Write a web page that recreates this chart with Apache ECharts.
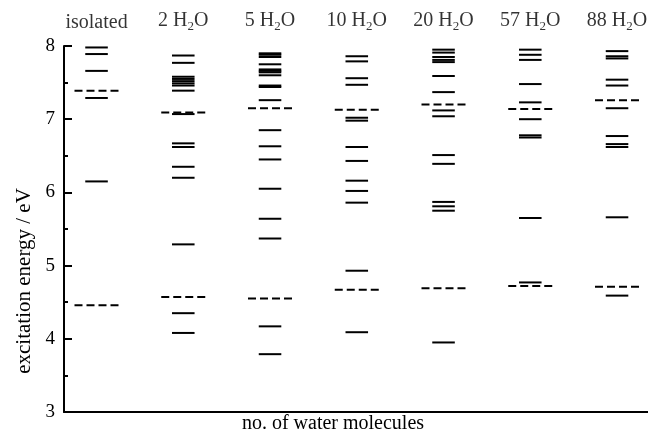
<!DOCTYPE html>
<html>
<head>
<meta charset="utf-8">
<script src="https://cdn.jsdelivr.net/npm/echarts@6/dist/echarts.min.js"></script>
<style>html,body{margin:0;padding:0;background:#fff}#c{width:648px;height:434px}</style>
</head>
<body>
<div id="c"></div>
<script>
// Column headers (rich text: {s|..} is subscript)
const columnLabels = ['{n|isolated}', '{n|2 H}{s|2}{n|O}', '{n|5 H}{s|2}{n|O}', '{n|10 H}{s|2}{n|O}', '{n|20 H}{s|2}{n|O}', '{n|57 H}{s|2}{n|O}', '{n|88 H}{s|2}{n|O}'];
const yTicks = [3, 4, 5, 6, 7, 8];

// Excitation energies (eV), solid levels per column
const solidIsolated = [7.98, 7.89, 7.66, 7.29, 6.15];
const solid2 = [7.87, 7.77, 7.58, 7.55, 7.52, 7.49, 7.46, 7.39, 7.07, 6.67, 6.62, 6.35, 6.20, 5.29, 4.35, 4.08];
const solid5 = [7.90, 7.88, 7.85, 7.75, 7.68, 7.66, 7.64, 7.60, 7.46, 7.44, 7.26, 6.85, 6.63, 6.45, 6.05, 5.64, 5.37, 4.17, 3.79];
const solid10 = [7.86, 7.79, 7.56, 7.47, 7.02, 6.98, 6.62, 6.43, 6.16, 6.02, 5.86, 4.93, 4.09];
const solid20 = [7.95, 7.91, 7.85, 7.81, 7.78, 7.59, 7.37, 7.12, 7.04, 6.51, 6.39, 5.87, 5.81, 5.75, 3.95];
const solid57 = [7.95, 7.88, 7.81, 7.48, 7.23, 7.00, 6.78, 6.75, 5.65, 4.77];
const solid88 = [7.93, 7.86, 7.83, 7.54, 7.46, 7.15, 6.77, 6.66, 6.62, 5.66, 4.59];

// Dashed levels per column
const dashedIsolated = [7.39, 4.46];
const dashed2 = [7.09, 4.57];
const dashed5 = [7.15, 4.55];
const dashed10 = [7.13, 4.67];
const dashed20 = [7.20, 4.69];
const dashed57 = [7.14, 4.72];
const dashed88 = [7.26, 4.71];

const solidCols = [solidIsolated, solid2, solid5, solid10, solid20, solid57, solid88];
const dashedCols = [dashedIsolated, dashed2, dashed5, dashed10, dashed20, dashed57, dashed88];

const solidData = [];
solidCols.forEach((arr, i) => arr.forEach(v => solidData.push([i, v])));
const dashedData = [];
dashedCols.forEach((arr, i) => arr.forEach(v => dashedData.push([i, v])));

function levelRenderer(half, dash) {
  return function (params, api) {
    const x = api.value(0), y = api.value(1);
    const p1 = api.coord([x - half, y]);
    const p2 = api.coord([x + half, y]);
    return {
      type: 'line',
      shape: { x1: p1[0], y1: p1[1], x2: p2[0], y2: p2[1] },
      style: { stroke: '#000', lineWidth: 2, lineDash: dash }
    };
  };
}

const font = 'Liberation Serif';
const chart = echarts.init(document.getElementById('c'), null, { renderer: 'canvas' });
chart.setOption({
  animation: false,
  backgroundColor: '#fff',
  grid: { left: 64, right: 0, top: 46, bottom: 22, containLabel: false, outerBoundsMode: 'none' },
  xAxis: {
    type: 'value', min: -0.375, max: 6.357,
    axisLine: { show: true, onZero: false, lineStyle: { color: '#000', width: 2 } },
    axisTick: { show: false }, axisLabel: { show: false }, splitLine: { show: false },
    name: 'no. of water molecules', nameLocation: 'middle', nameGap: 2,
    nameTextStyle: { fontFamily: font, fontSize: 20, color: '#000', padding: [0, 46, 0, 0] }
  },
  yAxis: {
    type: 'value', min: yTicks[0], max: yTicks[yTicks.length - 1], interval: 1,
    axisLine: { show: true, onZero: false, lineStyle: { color: '#000', width: 2 } },
    axisTick: { show: true, inside: true, length: 8, lineStyle: { color: '#000', width: 2 } },
    minorTick: { show: true, splitNumber: 2, length: 4, lineStyle: { color: '#000', width: 2 } },
    axisLabel: { fontFamily: font, fontSize: 19, color: '#000', margin: 9 },
    splitLine: { show: false },
    name: 'excitation energy / eV', nameLocation: 'middle', nameGap: 26,
    nameTextStyle: { fontFamily: font, fontSize: 21, color: '#000', padding: [0, 104, 0, 0] }
  },
  series: [
    {
      type: 'custom', renderItem: levelRenderer(0.13, null), data: solidData, clip: false
    },
    {
      type: 'custom', renderItem: levelRenderer(0.254, [8, 4]), data: dashedData, clip: false
    },
    {
      type: 'scatter', symbolSize: 0,
      data: columnLabels.map((t, i) => [i, 8, t]),
      label: {
        show: true, position: 'top', distance: 13,
        formatter: p => p.data[2],
        rich: {
          n: { fontFamily: font, fontSize: 20, color: '#000' },
          s: { fontFamily: font, fontSize: 13, color: '#000', padding: [11, 0, 0, 0] }
        }
      }
    }
  ]
});
</script>
</body>
</html>
